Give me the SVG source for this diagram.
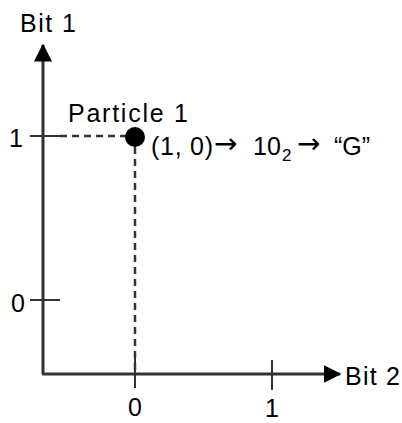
<svg xmlns="http://www.w3.org/2000/svg" width="402" height="423" viewBox="0 0 402 423">
<defs>
<style>
text{font-family:"Liberation Sans",Arial,sans-serif;font-size:25px;fill:#000}
.arr{font-family:"DejaVu Sans",sans-serif;font-size:28px}
.axis{stroke:#333;stroke-width:3;fill:none}
.tick{stroke:#333;stroke-width:2;fill:none}
.dash{stroke:#333;stroke-width:2.5;stroke-dasharray:7 5;fill:none}
</style>
<marker id="ah" markerWidth="6" markerHeight="6" refX="5.5" refY="3" orient="auto" markerUnits="strokeWidth">
<path d="M0,0 L6,3 L0,6 Z" fill="#000"/>
</marker>
</defs>
<g id="connectors">
<path class="axis" d="M43,374 L43,45" marker-end="url(#ah)"/>
<path class="axis" d="M42,374 L340,374" marker-end="url(#ah)"/>
<path class="tick" d="M30,136 L60,136"/>
<path class="tick" d="M30,300 L60,300"/>
<path class="tick" d="M135,358 L135,388"/>
<path class="tick" d="M272,360 L272,390"/>
<path class="dash" d="M60,136 L126,136"/>
<path class="dash" d="M135,147 L135,374"/>
</g>
<g id="particle">
<circle cx="135" cy="137" r="10" fill="#000"/>
<text x="68" y="122" font-size="26" textLength="120">Particle 1</text>
<text y="155" font-size="27"><tspan x="151" textLength="62">(1, 0)</tspan><tspan class="arr" x="214" dy="-2">→</tspan><tspan x="253" dy="2">10</tspan><tspan x="282" dy="6" font-size="17">2</tspan><tspan class="arr" x="297" dy="-8">→</tspan><tspan x="334" dy="2">“G”</tspan></text>
</g>
<g id="labels">
<text x="20" y="32" textLength="56">Bit 1</text>
<text x="345" y="385" textLength="55">Bit 2</text>
<text x="9" y="147">1</text>
<text x="11" y="312">0</text>
<text x="128" y="416">0</text>
<text x="265" y="417">1</text>
</g>
</svg>
